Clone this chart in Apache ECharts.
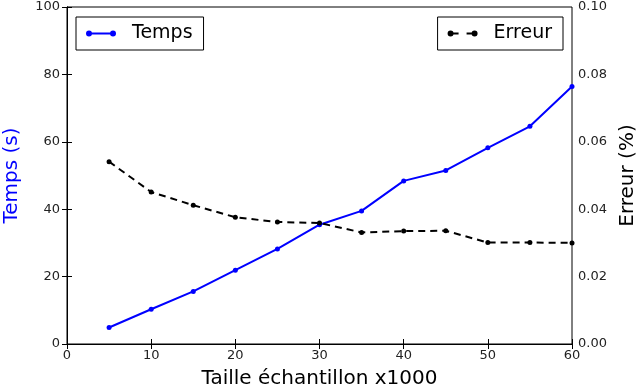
<!DOCTYPE html>
<html>
<head>
<meta charset="utf-8">
<script src="https://cdn.jsdelivr.net/npm/echarts@6/dist/echarts.min.js"></script>
<style>
  html, body { margin: 0; padding: 0; background: #fff; }
  #chart { width: 640px; height: 390px; }
</style>
</head>
<body>
<div id="chart"></div>
<script>
  // sample size (x1000)
  let sizes = [5, 10, 15, 20, 25, 30, 35, 40, 45, 50, 55, 60]
  // time in seconds
  let temps = [4.9, 10.3, 15.6, 21.9, 28.2, 35.4, 39.5, 48.4, 51.5, 58.2, 64.6, 76.4]
  // error
  let erreur = [0.0541, 0.0451, 0.0412, 0.0376, 0.0362, 0.0359, 0.0331, 0.0335, 0.0336, 0.0301, 0.0301, 0.0300]

  let tempsData = sizes.map((s, i) => [s, temps[i]])
  let erreurData = sizes.map((s, i) => [s, erreur[i]])

  // legend icons: line with a dot at each end (clockwise so nothing cancels out)
  const dot = 'a3,3 0 1,1 6,0 a3,3 0 1,1 -6,0 z'
  const iconSolid = 'path://M0,3 ' + dot + ' M3,2 h24 v2 h-24 z M24,3 ' + dot
  const iconDash = 'path://M0,3 ' + dot + ' M3,2 h8 v2 h-8 z M19,2 h8 v2 h-8 z M24,3 ' + dot

  const font = 'DejaVu Sans'
  const tickLabel = { color: '#222', fontSize: 13, fontFamily: font }

  const legendBase = {
    top: 17,
    orient: 'horizontal',
    borderColor: '#000',
    borderWidth: 1,
    borderRadius: 0,
    padding: [7, 11, 7, 10],
    itemWidth: 30,
    itemHeight: 6,
    itemGap: 10,
    textStyle: { fontSize: 19, fontFamily: font, color: '#000', padding: [0, 0, 0, 11] }
  }

  const option = {
    backgroundColor: '#fff',
    animation: false,
    grid: {
      left: 67, right: 68, top: 7, bottom: 46,
      outerBoundsMode: 'none',
      containLabel: false,
      show: true, borderColor: '#000', borderWidth: 1
    },
    legend: [
      Object.assign({}, legendBase, {
        left: 76,
        data: [{ name: 'Temps', icon: iconSolid, itemStyle: { color: '#0000ff', borderWidth: 0 } }]
      }),
      Object.assign({}, legendBase, {
        right: 77,
        data: [{ name: 'Erreur', icon: iconDash, itemStyle: { color: '#000', borderWidth: 0 } }]
      })
    ],
    xAxis: [{
      type: 'value',
      min: 0, max: 60, interval: 10,
      name: 'Taille échantillon x1000',
      nameLocation: 'middle',
      nameGap: 25,
      nameTextStyle: { fontSize: 20, fontFamily: font, color: '#000', verticalAlign: 'top' },
      axisLine: { show: true, lineStyle: { color: '#000' } },
      axisTick: { show: true, inside: true, length: 5, lineStyle: { color: '#000' } },
      axisLabel: Object.assign({ margin: 5 }, tickLabel),
      splitLine: { show: false }
    }, {
      type: 'value',
      position: 'top',
      min: 0, max: 60, interval: 10,
      axisLine: { show: true, lineStyle: { color: '#000' } },
      axisTick: { show: true, inside: true, length: 5, lineStyle: { color: '#000' } },
      axisLabel: { show: false },
      splitLine: { show: false }
    }],
    yAxis: [{
      type: 'value',
      position: 'left',
      min: 0, max: 100, interval: 20,
      name: 'Temps (s)',
      nameLocation: 'middle',
      nameGap: 45,
      nameTextStyle: { fontSize: 20, fontFamily: font, color: '#0000ff' },
      axisLine: { show: true, lineStyle: { color: '#000' } },
      axisTick: { show: true, inside: true, length: 5, lineStyle: { color: '#000' } },
      axisLabel: Object.assign({ margin: 7 }, tickLabel),
      splitLine: { show: false }
    }, {
      type: 'value',
      position: 'right',
      min: 0, max: 0.1, interval: 0.02,
      name: 'Erreur (%)',
      nameLocation: 'middle',
      nameGap: 44,
      nameTextStyle: { fontSize: 20, fontFamily: font, color: '#000' },
      axisLine: { show: true, lineStyle: { color: '#000' } },
      axisTick: { show: true, inside: true, length: 5, lineStyle: { color: '#000' } },
      axisLabel: Object.assign({ margin: 6, formatter: v => v.toFixed(2) }, tickLabel),
      splitLine: { show: false }
    }],
    series: [{
      name: 'Temps',
      type: 'line',
      xAxisIndex: 0,
      yAxisIndex: 0,
      symbol: 'circle',
      symbolSize: 5,
      showAllSymbol: true,
      lineStyle: { width: 2, color: '#0000ff' },
      itemStyle: { color: '#0000ff' },
      data: tempsData
    }, {
      name: 'Erreur',
      type: 'line',
      xAxisIndex: 0,
      yAxisIndex: 1,
      symbol: 'circle',
      symbolSize: 5,
      showAllSymbol: true,
      lineStyle: { width: 2, color: '#000', type: [7, 5] },
      itemStyle: { color: '#000' },
      data: erreurData
    }]
  }

  let eChart = echarts.init(document.getElementById('chart'), null, { renderer: 'canvas' })
  eChart.setOption(option)
</script>
</body>
</html>
